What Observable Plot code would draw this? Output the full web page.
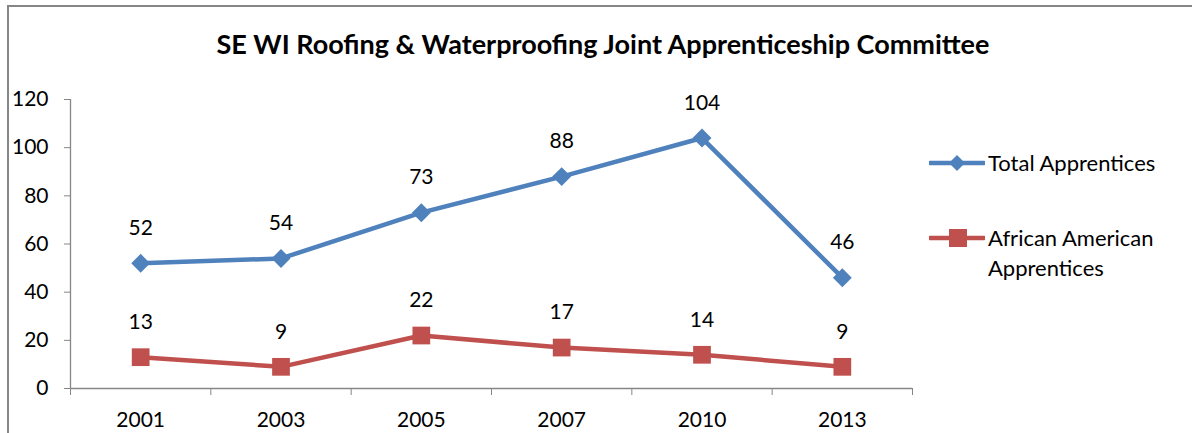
<!DOCTYPE html>
<html>
<head>
<meta charset="utf-8">
<script src="https://cdn.jsdelivr.net/npm/d3@7"></script>
<script src="https://cdn.jsdelivr.net/npm/@observablehq/plot@0.6"></script>
<style>
  html, body { margin: 0; padding: 0; background: #fff; }
  body { width: 1192px; height: 433px; overflow: hidden; position: relative; font-family: Lato, "Open Sans", sans-serif; }
  #frame { position: absolute; left: 7px; top: 5px; width: 1400px; height: 600px; border: 2px solid #868686; box-sizing: border-box; }
  #title { position: absolute; left: 0; width: 1206px; top: 27px; text-align: center; font-weight: bold; font-size: 27px; color: #000; white-space: nowrap; }
  #chart { position: absolute; left: 0; top: 0; }
  .leg { position: absolute; left: 929px; display: flex; align-items: flex-start; font-size: 22px; color: #000; line-height: 30px; }
  .leg svg { margin-top: 0; margin-right: 3px; flex: none; }
</style>
</head>
<body>
<div id="frame"></div>
<div id="chart"></div>
<div id="title"></div>
<div id="legend"></div>
<script>
const titleText = "SE WI Roofing & Waterproofing Joint Apprenticeship Committee";
const years = ["2001", "2003", "2005", "2007", "2010", "2013"];
const totalApprentices = [52, 54, 73, 88, 104, 46];
const africanAmerican = [13, 9, 22, 17, 14, 9];
const seriesNames = ["Total Apprentices", "African American Apprentices"];
const yTicks = [0, 20, 40, 60, 80, 100, 120];

const blue = "#4F81BD";
const red = "#C0504D";
const grey = "#868686";

document.getElementById("title").textContent = titleText;

const totalData = years.map((y, i) => ({i, year: y, value: totalApprentices[i]}));
const aaData = years.map((y, i) => ({i, year: y, value: africanAmerican[i]}));
const boundaries = d3.range(-0.5, years.length, 1);

const chart = Plot.plot({
  width: 1192,
  height: 433,
  marginLeft: 70,
  marginRight: 280,
  marginTop: 99,
  marginBottom: 45,
  style: {fontFamily: "Lato, 'Open Sans', sans-serif", fontSize: "21px", color: "#000", background: "transparent"},
  x: {type: "linear", domain: [-0.5, years.length - 0.5]},
  y: {domain: [0, 120]},
  marks: [
    Plot.axisY(yTicks, {tickSize: 6, tickPadding: 16, stroke: grey, fill: "#000", label: null, fontSize: 21}),
    Plot.axisX(d3.range(years.length), {tickSize: 0, tickPadding: 24, tickFormat: i => years[i], fill: "#000", label: null, fontSize: 21}),
    Plot.axisX(boundaries, {tickSize: 7, stroke: grey, fill: "none", label: null}),
    Plot.ruleY([0], {stroke: grey, strokeWidth: 1.3}),
    Plot.ruleX([-0.5], {stroke: grey, strokeWidth: 1.3}),
    Plot.line(totalData, {x: "i", y: "value", stroke: blue, strokeWidth: 4.5}),
    Plot.line(aaData, {x: "i", y: "value", stroke: red, strokeWidth: 4.5}),
    Plot.dot(totalData, {x: "i", y: "value", symbol: "diamond2", r: 8.5, fill: blue, stroke: null}),
    Plot.dot(aaData, {x: "i", y: "value", symbol: "square", r: 10, fill: red, stroke: null}),
    Plot.text(totalData, {x: "i", y: "value", text: d => String(d.value), dy: -35, fill: "#000", fontSize: 21}),
    Plot.text(aaData, {x: "i", y: "value", text: d => String(d.value), dy: -35, fill: "#000", fontSize: 21})
  ]
});
document.getElementById("chart").appendChild(chart);

// Legend
const legend = document.getElementById("legend");
const legendItems = [
  {name: seriesNames[0], color: blue, shape: "diamond", top: 148},
  {name: seriesNames[1], color: red, shape: "square", top: 223}
];
legendItems.forEach(item => {
  const div = document.createElement("div");
  div.className = "leg";
  div.style.top = item.top + "px";
  const svg = d3.create("svg").attr("width", 56).attr("height", 30);
  svg.append("line").attr("x1", 1).attr("x2", 55).attr("y1", 15).attr("y2", 15)
    .attr("stroke", item.color).attr("stroke-width", 4.5).attr("stroke-linecap", "round");
  if (item.shape === "diamond") {
    svg.append("path").attr("d", "M28,7L36,15L28,23L20,15Z").attr("fill", item.color);
  } else {
    svg.append("rect").attr("x", 20).attr("y", 6).attr("width", 18).attr("height", 18).attr("fill", item.color);
  }
  div.appendChild(svg.node());
  const span = document.createElement("span");
  span.style.width = "200px";
  span.textContent = item.name;
  div.appendChild(span);
  legend.appendChild(div);
});
</script>
</body>
</html>
